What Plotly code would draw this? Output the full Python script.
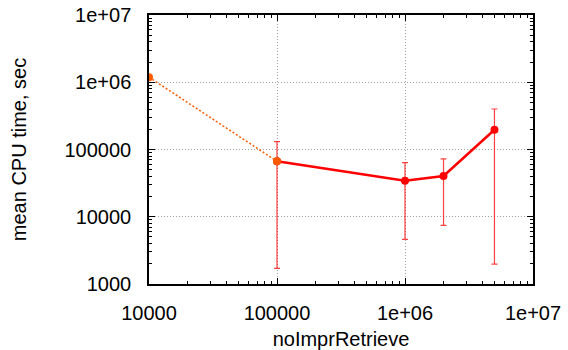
import plotly.graph_objects as go

# Data
x_extrap = [1e4, 1e5]
y_extrap = [1.19e6, 66700]

x_meas = [1e5, 1e6, 2e6, 5e6]
y_meas = [66700, 34400, 40400, 197000]
y_hi = [130600, 63700, 72300, 400000]
y_lo = [1710, 4620, 7460, 1980]

x_tickvals = [1e4, 1e5, 1e6, 1e7]
x_ticktext = ["10000", "100000", "1e+06", "1e+07"]
y_tickvals = [1e3, 1e4, 1e5, 1e6, 1e7]
y_ticktext = ["1000", "10000", "100000", "1e+06", "1e+07"]

err_plus = [h - y for h, y in zip(y_hi, y_meas)]
err_minus = [y - l for l, y in zip(y_lo, y_meas)]

FONT = "Liberation Sans, Arial, sans-serif"

fig = go.Figure()
fig.add_trace(go.Scatter(
    x=x_meas, y=y_meas, mode="lines+markers",
    line=dict(color="#ff0000", width=2.5),
    marker=dict(color="#ff0000", size=8),
    error_y=dict(type="data", array=err_plus, arrayminus=err_minus,
                 color="rgba(255,0,0,0.75)", thickness=1.2, width=3),
    showlegend=False,
))
fig.add_trace(go.Scatter(
    x=x_extrap, y=y_extrap, mode="lines+markers",
    line=dict(color="#ff5a00", width=1.5, dash="2px,2px"),
    marker=dict(color="#ff5a00", size=8),
    showlegend=False,
))

axis_common = dict(
    type="log",
    automargin=False,
    showline=True, linecolor="black", linewidth=1.5,
    mirror="allticks",
    ticks="inside", ticklen=6, tickcolor="black", tickwidth=1,
    showgrid=True, gridcolor="#a0a0a0", griddash="1px,2px", gridwidth=1,
    zeroline=False,
    tickfont=dict(family=FONT, size=20, color="black"),
    minor=dict(ticks="inside", ticklen=3, tickcolor="black", showgrid=False, dtick="D1"),
)

fig.update_xaxes(
    **axis_common,
    range=[4, 7],
    tickmode="array", tickvals=x_tickvals, ticktext=x_ticktext,
    ticklabelstandoff=10,
    title=dict(text="noImprRetrieve", standoff=14,
               font=dict(family=FONT, size=20, color="black")),
)
fig.update_yaxes(
    **axis_common,
    range=[3, 7],
    tickmode="array", tickvals=y_tickvals, ticktext=y_ticktext,
    ticklabelstandoff=12,
    title=dict(text="mean CPU time, sec", standoff=33,
               font=dict(family=FONT, size=20, color="black")),
)

fig.update_layout(
    width=568, height=350,
    margin=dict(l=149, r=35, t=15, b=66, pad=0),
    paper_bgcolor="white", plot_bgcolor="white",
)

fig.write_html("out.html")
